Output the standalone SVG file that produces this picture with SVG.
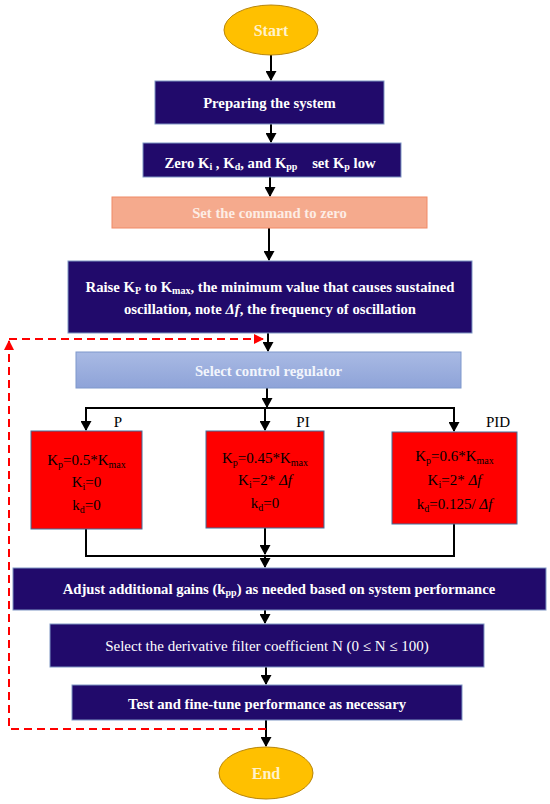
<svg xmlns="http://www.w3.org/2000/svg" width="550" height="804" viewBox="0 0 550 804">
<defs>
<marker id="ah" markerWidth="10" markerHeight="11" refX="9" refY="5.5" orient="auto" markerUnits="userSpaceOnUse"><path d="M0,0 L10,5.5 L0,11 Z" fill="#000"/></marker>
<marker id="ahr" markerWidth="10" markerHeight="10" refX="9" refY="5" orient="auto" markerUnits="userSpaceOnUse"><path d="M0,0 L10,5 L0,10 Z" fill="#FF0000"/></marker>
<linearGradient id="gsel" x1="0" y1="0" x2="0" y2="1"><stop offset="0" stop-color="#A9BAE4"/><stop offset="1" stop-color="#8EA3D8"/></linearGradient>
<style>
.nv{fill:#210A6B;stroke:#7E96C4;stroke-width:1}
.wt{font-family:"Liberation Serif","Times New Roman",serif;font-size:14.7px;font-weight:bold;fill:#FFFFFF;text-anchor:middle}
.wn{font-family:"Liberation Serif","Times New Roman",serif;font-size:15px;fill:#FFFFFF;text-anchor:middle}
.bk{font-family:"Liberation Serif","Times New Roman",serif;font-size:15px;fill:#000;text-anchor:middle}
.rd{fill:#FF0000;stroke:#41719C;stroke-width:1}
.el{fill:#FFC000;stroke:#B8860B;stroke-width:1}
.et{font-family:"Liberation Serif","Times New Roman",serif;font-size:16px;font-weight:bold;fill:#FFF2CC;text-anchor:middle}
.ln{fill:none;stroke:#000;stroke-width:2}
.dsh{fill:none;stroke:#FF0000;stroke-width:2;stroke-dasharray:8,5}
.sb{font-size:10px}
</style>
</defs>

<g id="connectors">
<line class="ln" x1="271" y1="55" x2="271" y2="80" marker-end="url(#ah)"/>
<line class="ln" x1="271" y1="124" x2="271" y2="142" marker-end="url(#ah)"/>
<line class="ln" x1="270" y1="177" x2="270" y2="196" marker-end="url(#ah)"/>
<line class="ln" x1="269" y1="228" x2="269" y2="260" marker-end="url(#ah)"/>
<line class="ln" x1="268" y1="333" x2="268" y2="351" marker-end="url(#ah)"/>
<line class="ln" x1="267" y1="388" x2="267" y2="407" marker-end="url(#ah)"/>
<path class="ln" d="M86,430 V408 H454 V431" marker-end="url(#ah)"/>
<line class="ln" x1="86" y1="420" x2="86" y2="430" marker-end="url(#ah)"/>
<line class="ln" x1="265" y1="408" x2="265" y2="430" marker-end="url(#ah)"/>
<path class="ln" d="M86,529 V556 H454 V524"/>
<line class="ln" x1="265" y1="528" x2="265" y2="554" marker-end="url(#ah)"/>
<line class="ln" x1="265" y1="556" x2="265" y2="567" marker-end="url(#ah)"/>
<line class="ln" x1="265" y1="610" x2="265" y2="623" marker-end="url(#ah)"/>
<line class="ln" x1="266" y1="667" x2="266" y2="684" stroke="#555" marker-end="url(#ah)"/>
<line class="ln" x1="266" y1="720" x2="266" y2="746" marker-end="url(#ah)"/>
<path class="dsh" d="M266,729 H9 V341" marker-end="url(#ahr)"/>
<path class="dsh" d="M9,339 H263" marker-end="url(#ahr)"/>
</g>

<g id="start">
<ellipse class="el" cx="271" cy="30" rx="47" ry="25"/>
<text class="et" x="271" y="36">Start</text>
</g>

<g id="prepare">
<rect class="nv" x="155" y="81" width="229" height="43"/>
<text class="wt" x="269.5" y="108">Preparing the system</text>
</g>

<g id="zero">
<rect class="nv" x="143" y="143" width="258" height="34"/>
<text class="wt" x="270" y="168">Zero K<tspan class="sb" dy="2">i</tspan><tspan dy="-2"> , K</tspan><tspan class="sb" dy="2">d</tspan><tspan dy="-2">, and K</tspan><tspan class="sb" dy="2">pp</tspan><tspan dy="-2" xml:space="preserve">    set K</tspan><tspan class="sb" dy="2">p</tspan><tspan dy="-2"> low</tspan></text>
</g>

<g id="setcmd">
<rect x="112" y="197" width="315" height="31" fill="#F5AA8D" stroke="#F08A66" stroke-width="1"/>
<text class="wt" x="269.5" y="218" style="fill:#FDEDE5">Set the command to zero</text>
</g>

<g id="raise">
<rect class="nv" x="68" y="261" width="404" height="72"/>
<text class="wt" x="270" y="292">Raise K<tspan class="sb" dy="2">P</tspan><tspan dy="-2"> to K</tspan><tspan class="sb" dy="2">max</tspan><tspan dy="-2">, the minimum value that causes sustained</tspan></text>
<text class="wt" x="270" y="314">oscillation, note <tspan font-style="italic">Δf</tspan>, the frequency of oscillation</text>
</g>

<g id="select">
<rect x="76" y="352" width="385" height="36" fill="url(#gsel)" stroke="#7E98CC" stroke-width="1"/>
<text class="wt" x="268.5" y="376" style="fill:#F2F5FC">Select control regulator</text>
</g>

<g id="boxP">
<rect class="rd" x="31" y="431" width="111" height="98"/>
<text class="bk" x="118" y="427">P</text>
<text class="bk" x="86.5" y="465">K<tspan class="sb" dy="3">p</tspan><tspan dy="-3">=0.5*K</tspan><tspan class="sb" dy="3">max</tspan></text>
<text class="bk" x="86.5" y="487">K<tspan class="sb" dy="3">i</tspan><tspan dy="-3">=0</tspan></text>
<text class="bk" x="86.5" y="510">k<tspan class="sb" dy="3">d</tspan><tspan dy="-3">=0</tspan></text>
</g>

<g id="boxPI">
<rect class="rd" x="206" y="431" width="118" height="97"/>
<text class="bk" x="303" y="427">PI</text>
<text class="bk" x="265" y="463">K<tspan class="sb" dy="3">p</tspan><tspan dy="-3">=0.45*K</tspan><tspan class="sb" dy="3">max</tspan></text>
<text class="bk" x="265" y="485">K<tspan class="sb" dy="3">i</tspan><tspan dy="-3">=2* </tspan><tspan font-style="italic">Δf</tspan></text>
<text class="bk" x="265" y="508">k<tspan class="sb" dy="3">d</tspan><tspan dy="-3">=0</tspan></text>
</g>

<g id="boxPID">
<rect class="rd" x="392" y="432" width="125" height="92"/>
<text class="bk" x="498" y="427">PID</text>
<text class="bk" x="454.5" y="461">K<tspan class="sb" dy="3">p</tspan><tspan dy="-3">=0.6*K</tspan><tspan class="sb" dy="3">max</tspan></text>
<text class="bk" x="454.5" y="485">K<tspan class="sb" dy="3">i</tspan><tspan dy="-3">=2* </tspan><tspan font-style="italic">Δf</tspan></text>
<text class="bk" x="454.5" y="509">k<tspan class="sb" dy="3">d</tspan><tspan dy="-3">=0.125/ </tspan><tspan font-style="italic">Δf</tspan></text>
</g>

<g id="adjust">
<rect class="nv" x="13" y="568" width="533" height="42"/>
<text class="wt" x="279" y="594">Adjust additional gains (k<tspan class="sb" dy="2">pp</tspan><tspan dy="-2">) as needed based on system performance</tspan></text>
</g>

<g id="filter">
<rect class="nv" x="50" y="624" width="434" height="43"/>
<text class="wn" x="267" y="651">Select the derivative filter coefficient N (0 ≤ N ≤ 100)</text>
</g>

<g id="test">
<rect class="nv" x="72" y="685" width="390" height="35"/>
<text class="wt" x="267" y="709">Test and fine-tune performance as necessary</text>
</g>

<g id="end">
<ellipse class="el" cx="266" cy="773" rx="47" ry="26"/>
<text class="et" x="266" y="779">End</text>
</g>
</svg>
